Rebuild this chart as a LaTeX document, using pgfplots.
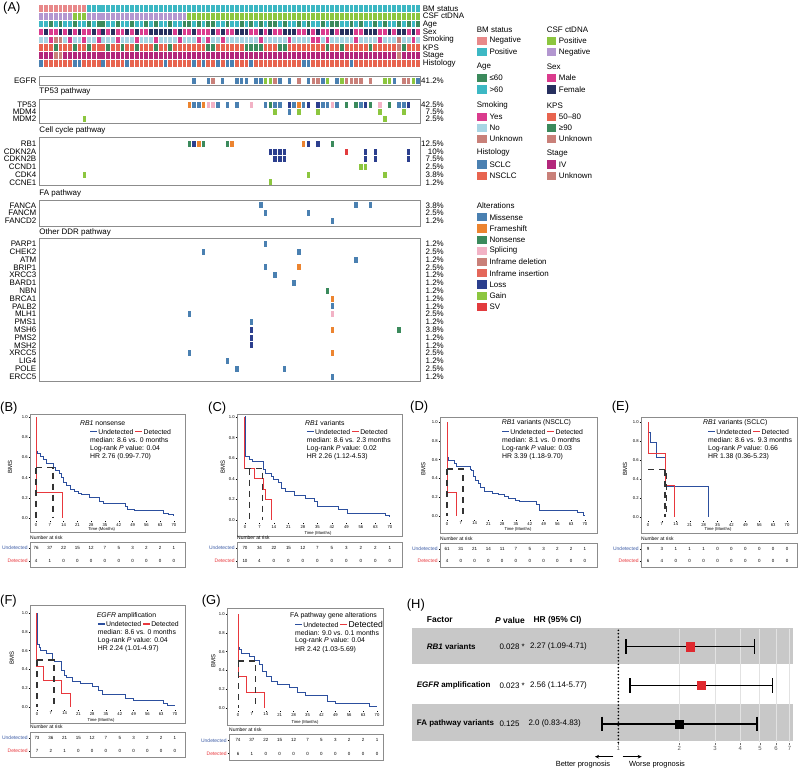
\documentclass[border=0pt]{standalone}
\usepackage{fontspec}
\setmainfont{Liberation Sans}
\usepackage{pgfplots}
\pgfplotsset{compat=1.18}
\usepackage{pgfplotstable}
\usetikzlibrary{arrows.meta}

\definecolor{cBMneg}{HTML}{E8898A}
\definecolor{cTeal}{HTML}{3DB8C4}
\definecolor{cCSFpos}{HTML}{8CC63F}
\definecolor{cCSFneg}{HTML}{B397D0}
\definecolor{cDkGreen}{HTML}{3B8A5C}
\definecolor{cMag}{HTML}{DA3B8D}
\definecolor{cNavy}{HTML}{262F5E}
\definecolor{cLtBlue}{HTML}{A8D5E4}
\definecolor{cUnk}{HTML}{C98079}
\definecolor{cCoral}{HTML}{E8644F}
\definecolor{cStage}{HTML}{B3277B}
\definecolor{cSCLC}{HTML}{4A80B1}
\definecolor{aMis}{HTML}{4A80B1}
\definecolor{aFs}{HTML}{EC8430}
\definecolor{aNon}{HTML}{3B8A5C}
\definecolor{aSpl}{HTML}{F2B2C5}
\definecolor{aDel}{HTML}{C98079}
\definecolor{aIns}{HTML}{E4675A}
\definecolor{aLoss}{HTML}{2C3F8E}
\definecolor{aGain}{HTML}{8CC63F}
\definecolor{aSV}{HTML}{E23B3E}
\definecolor{kmblue}{HTML}{2C4F9E}
\definecolor{kmred}{HTML}{E8383D}
\definecolor{ublue}{HTML}{3B5BA5}
\definecolor{framec}{HTML}{8C8C8C}
\definecolor{bandc}{HTML}{C8C8C8}
\definecolor{gridc}{HTML}{E2E2E2}
\definecolor{fred}{HTML}{E0292F}

\pgfdeclareplotmark{cellA}{\pgfpathrectangle{\pgfpoint{-1.9bp}{-3.35bp}}{\pgfpoint{3.8bp}{6.7bp}}\pgfusepathqfill}
\pgfdeclareplotmark{cellB}{\pgfpathrectangle{\pgfpoint{-1.75bp}{-3bp}}{\pgfpoint{3.5bp}{6bp}}\pgfusepathqfill}

\newcommand{\fs}[1]{\fontsize{#1}{#1}\selectfont}
\newcommand{\detfont}{}
\newcommand{\kmleg}{\textcolor{kmblue}{\rule[0.28em]{7bp}{1.3bp}}\,Undetected\ \textcolor{kmred}{\rule[0.28em]{7bp}{1.3bp}}\,{\detfont Detected}}
\newcommand{\kmtext}[7]{%
  \node[anchor=west,font=\fs{6.9},inner sep=0] at (#1,#4-8.7) {#2};
  \node[anchor=west,font=\fs{6.9},inner sep=0] at (#3,#4) {\kmleg};
  \node[anchor=west,font=\fs{6.9},inner sep=0] at (#3,#4+8.4) {median: #5 months};
  \node[anchor=west,font=\fs{6.9},inner sep=0] at (#3,#4+16.7) {Log-rank \textit{P} value: #6};
  \node[anchor=west,font=\fs{6.9},inner sep=0] at (#3,#4+25) {HR #7};}
\newcommand{\sw}[4]{\fill[#3] (#1,#2-4.15) rectangle (#1+9.4,#2+4.15);
  \node[anchor=west,font=\fs{8},inner sep=0] at (#1+12,#2) {#4};}

\pgfplotsset{
 onco/.style={scatter, only marks, scatter src=explicit symbolic,
  scatter/classes={
   N={mark=cellA,cBMneg}, P={mark=cellA,cTeal}, G={mark=cellA,cCSFpos}, V={mark=cellA,cCSFneg},
   Y={mark=cellA,cDkGreen}, O={mark=cellA,cTeal}, M={mark=cellA,cMag}, F={mark=cellA,cNavy},
   S={mark=cellA,cMag}, L={mark=cellA,cLtBlue}, U={mark=cellA,cUnk}, K={mark=cellA,cCoral},
   H={mark=cellA,cDkGreen}, I={mark=cellA,cStage}, C={mark=cellA,cSCLC}, D={mark=cellA,cCoral},
   a={mark=cellB,aMis}, f={mark=cellB,aFs}, n={mark=cellB,aNon}, s={mark=cellB,aSpl},
   d={mark=cellB,aDel}, i={mark=cellB,aIns}, l={mark=cellB,aLoss}, g={mark=cellB,aGain}, v={mark=cellB,aSV}}},
 km/.style={scale only axis, anchor=south west, axis x line*=bottom, axis y line*=left,
  axis line style={draw=none}, xtick={0,7,14,21,28,35,42,49,56,63,70},
  ytick={0,0.2,0.4,0.6,0.8,1}, yticklabels={0.0,0.2,0.4,0.6,0.8,1.0},
  tick style={black,line width=0.3bp}, major tick length=1.3bp, tick align=outside,
  ticklabel style={font=\fs{4.2},inner sep=0.8bp}, /pgf/number format/assume math mode=true, clip=false},
 kmb/.style={const plot, kmblue, line width=1bp, mark=none},
 kmr/.style={const plot, kmred, line width=1bp, mark=none},
 kmd/.style={black!80, line width=1.2bp, dash pattern=on 6bp off 5bp, mark=none},
 risk/.style={scale only axis, anchor=north west, y dir=reverse, ymin=0.52, ymax=2.48,
  axis line style={framec,line width=0.6bp}, xtick=\empty, ytick={1,2},
  yticklabels={\textcolor{ublue}{Undetected},\textcolor{kmred}{Detected}}, ytick pos=left,
  tick style={black,line width=0.3bp}, major tick length=1.2bp, tick align=outside,
  yticklabel style={font=\fs{5},inner sep=1bp}, clip=false},
 riskn/.style={draw=none, mark=none, nodes near coords, point meta=explicit symbolic,
  nodes near coords align=center, nodes near coords style={anchor=center,font=\fs{4.5},inner sep=0}},
}

\pgfplotstableread{
id bm csf age sex smk kps stg hist
0 N V O M L K I C
1 N V O F L K I D
2 N V Y M S K I D
3 N V O M U H U D
4 N V Y F U K U D
5 N V O M L K I D
6 N V O F S K I D
7 N G Y M L H I C
8 N G O F L K I C
9 N G O M S K I D
10 P V Y M L H I D
11 P V O F L K I D
12 P V Y M S K I D
13 P V Y F L K I C
14 P V O M L H I D
15 P V O F L K I D
16 P V Y M S K I D
17 P V O M L H I D
18 P V O F L K I C
19 P V Y M L K I D
20 P V O F S H I D
21 P V O M L K I D
22 P V Y M L K I D
23 P V O F L K I D
24 P V Y F S H I D
25 P V O F L K I D
26 P V O F L K I C
27 P V Y F L H I D
28 P V O M L K I D
29 P V O F S K I D
30 P V Y M L K I D
31 P G Y M L K I D
32 P G O F L K I C
33 P G Y M S K I D
34 P G O M L K I C
35 P G Y M S H I D
36 P G Y F L H I D
37 P G O M L K I C
38 P G O F S K I D
39 P G Y M L K I C
40 P G O M L K I C
41 P G O F L K I D
42 P G Y F L K I D
43 P G O F L H I D
44 P G Y M L H I C
45 P G O M L H I D
46 P G Y F S H I D
47 P G O M L K I D
48 P G Y F L K I D
49 P G Y M L K I D
50 P G O M L H I D
51 P G Y F L H I D
52 P G O F S K I D
53 P G O F L K I D
54 P G Y M L K I D
55 P G O M L K I C
56 P G Y F L K I C
57 P G O M S K I D
58 P G O F S K I D
59 P G Y M L K I D
60 P G O M S H I D
61 P G Y F L K I D
62 P G Y M L K I D
63 P G O F L H I D
64 P G O F L K I D
65 P G Y F L K I C
66 P G O M S K I D
67 P G Y M L K I D
68 P G O F L K I D
69 P G O F L H I D
70 P G Y F L K I D
71 P G O M S K I D
72 P G Y M L K I D
73 P G O F L K I D
74 P G O M L K I D
75 P G Y F U U U D
76 P G O F L H I D
77 P G Y M L K I D
78 P G O F S K I D
79 P G Y M L K I D
}\clin

\pgfplotstableread{
x y c
32 80.5 a
35 80.5 a
36 80.5 d
38 80.5 a
41 80.5 a
42 80.5 a
43 80.5 a
45 80.5 a
46 80.5 a
47 80.5 g
48 80.5 g
49 80.5 d
50 80.5 a
52 80.5 a
54 80.5 d
56 80.5 a
57 80.5 d
58 80.5 d
59 80.5 a
60 80.5 g
62 80.5 a
63 80.5 g
64 80.5 d
65 80.5 d
66 80.5 d
67 80.5 d
69 80.5 d
72 80.5 g
73 80.5 g
74 80.5 a
76 80.5 d
77 80.5 d
78 80.5 g
79 80.5 a
31 104.5 f
32 104.5 a
33 104.5 a
34 104.5 f
35 104.5 s
36 104.5 s
37 104.5 a
39 104.5 a
41 104.5 a
44 104.5 s
47 104.5 a
48 104.5 n
49 104.5 a
50 104.5 a
52 104.5 l
53 104.5 a
54 104.5 f
55 104.5 a
56 104.5 l
58 104.5 l
59 104.5 a
60 104.5 a
61 104.5 s
62 104.5 a
64 104.5 n
66 104.5 n
67 104.5 a
68 104.5 l
69 104.5 n
71 104.5 s
73 104.5 n
75 104.5 a
76 104.5 a
77 104.5 l
49 111.8 g
52 111.8 a
54 111.8 g
58 111.8 g
71 111.8 g
76 111.8 g
9 119.2 g
72 119.2 g
31 143.7 n
32 143.7 l
33 143.7 f
34 143.7 n
39 143.7 n
40 143.7 f
55 143.7 f
56 143.7 l
58 143.7 l
61 143.7 n
48 151.5 l
49 151.5 l
50 151.5 l
51 151.5 l
64 151.5 v
68 151.5 l
70 151.5 l
77 151.5 l
49 159.2 l
50 159.2 l
51 159.2 l
68 159.2 l
70 159.2 l
77 159.2 l
67 166.9 g
68 166.9 g
9 174.7 g
56 174.7 g
72 174.7 g
48 182.4 g
46 205.3 a
66 205.3 a
69 205.3 a
47 213.2 a
56 213.2 a
61 221 a
47 244 a
34 251.8 a
54 251.8 a
66 259.6 a
47 267.4 a
54 267.4 f
49 275.2 a
53 283 a
60 290.8 n
61 298.6 f
61 306.4 a
31 314.2 a
61 314.2 s
44 322 a
44 329.8 l
61 329.8 f
75 329.8 n
44 337.6 l
44 345.4 l
31 353.2 a
61 353.2 f
39 361 a
41 368.8 a
51 368.8 a
61 376.6 a
}\alter

\begin{document}
\begin{tikzpicture}
\useasboundingbox (0,0) rectangle (798bp,-770bp);
\begin{scope}[x=1bp,y=-1bp]
% panel labels
\foreach \lab/\xx/\yy in {(A)/3/8.5,(B)/0/408.5,(C)/208/408.5,(D)/410/407.5,(E)/611.7/407.5,(F)/0/601,(G)/201.7/601,(H)/406.7/605}
  {\node[anchor=west,font=\fs{13},inner sep=0] at (\xx,\yy) {\lab};}
% clinical labels
\foreach \lab/\yy in {BM status/8.3,CSF ctDNA/16.2,Age/24.1,Sex/32,Smoking/39.9,KPS/47.8,Stage/55.7,Histology/63.6}
  {\node[anchor=west,font=\fs{8},inner sep=0] at (422.7,\yy) {\lab};}
% gene boxes
\draw[framec,line width=0.7bp] (39.3,76) rectangle (420.6,85);
\draw[framec,line width=0.7bp] (39.3,99) rectangle (420.6,123.3);
\draw[framec,line width=0.7bp] (39.3,137.3) rectangle (420.6,185.7);
\draw[framec,line width=0.7bp] (39.3,200.7) rectangle (420.6,226);
\draw[framec,line width=0.7bp] (39.3,238.3) rectangle (420.6,381);
\foreach \lab/\yy in {TP53 pathway/91.7,Cell cycle pathway/130.7,FA pathway/193.3,Other DDR pathway/232.7}
  {\node[anchor=west,font=\fs{8},inner sep=0] at (39.3,\yy) {\lab};}
\foreach \g/\yy/\p in {EGFR/80.5/41.2\%,TP53/104.5/42.5\%,MDM4/111.8/7.5\%,MDM2/119.2/2.5\%,
  RB1/143.7/12.5\%,CDKN2A/151.5/10\%,CDKN2B/159.2/7.5\%,CCND1/166.9/2.5\%,CDK4/174.7/3.8\%,CCNE1/182.4/1.2\%,
  FANCA/205.3/3.8\%,FANCM/213.2/2.5\%,FANCD2/221/1.2\%,
  PARP1/244/1.2\%,CHEK2/251.8/2.5\%,ATM/259.6/1.2\%,BRIP1/267.4/2.5\%,XRCC3/275.2/1.2\%,BARD1/283/1.2\%,
  NBN/290.8/1.2\%,BRCA1/298.6/1.2\%,PALB2/306.4/1.2\%,MLH1/314.2/2.5\%,PMS1/322/1.2\%,MSH6/329.8/3.8\%,
  PMS2/337.6/1.2\%,MSH2/345.4/1.2\%,XRCC5/353.2/2.5\%,LIG4/361/1.2\%,POLE/368.8/2.5\%,ERCC5/376.6/1.2\%}
  {\node[anchor=east,font=\fs{8},inner sep=0] at (36.5,\yy) {\g};
   \node[anchor=east,font=\fs{8},inner sep=0] at (444,\yy) {\p};}
% legend
\node[anchor=west,font=\fs{8},inner sep=0] at (476.7,30) {BM status};
\sw{477.3}{40.8}{cBMneg}{Negative} \sw{477.3}{52}{cTeal}{Positive}
\node[anchor=west,font=\fs{8},inner sep=0] at (546.7,30) {CSF ctDNA};
\sw{546.7}{40.8}{cCSFpos}{Positive} \sw{546.7}{52}{cCSFneg}{Negative}
\node[anchor=west,font=\fs{8},inner sep=0] at (476.7,66.7) {Age};
\sw{477.3}{78}{cDkGreen}{≤60} \sw{477.3}{89.5}{cTeal}{>60}
\node[anchor=west,font=\fs{8},inner sep=0] at (546.7,66.7) {Sex};
\sw{546.7}{78}{cMag}{Male} \sw{546.7}{89.5}{cNavy}{Female}
\node[anchor=west,font=\fs{8},inner sep=0] at (476.7,105.3) {Smoking};
\sw{477.3}{116.7}{cMag}{Yes} \sw{477.3}{127.9}{cLtBlue}{No} \sw{477.3}{139.1}{cUnk}{Unknown}
\node[anchor=west,font=\fs{8},inner sep=0] at (546.7,105.3) {KPS};
\sw{546.7}{116.7}{cCoral}{50–80} \sw{546.7}{127.9}{cDkGreen}{≥90} \sw{546.7}{139.1}{cUnk}{Unknown}
\node[anchor=west,font=\fs{8},inner sep=0] at (476.7,152.7) {Histology};
\sw{477.3}{164.5}{cSCLC}{SCLC} \sw{477.3}{175.8}{cCoral}{NSCLC}
\node[anchor=west,font=\fs{8},inner sep=0] at (546.7,153.5) {Stage};
\sw{546.7}{164.5}{cStage}{IV} \sw{546.7}{175.8}{cUnk}{Unknown}
\node[anchor=west,font=\fs{8},inner sep=0] at (476.7,205.7) {Alterations};
\sw{477.3}{217.3}{aMis}{Missense} \sw{477.3}{228.5}{aFs}{Frameshift} \sw{477.3}{239.7}{aNon}{Nonsense}
\sw{477.3}{250.9}{aSpl}{Splicing} \sw{477.3}{262.1}{aDel}{Inframe deletion} \sw{477.3}{273.3}{aIns}{Inframe insertion}
\sw{477.3}{284.5}{aLoss}{Loss} \sw{477.3}{295.7}{aGain}{Gain} \sw{477.3}{306.9}{aSV}{SV}
% KM frames
\draw[framec,line width=0.6bp] (30,414) rectangle (185,532);
\draw[framec,line width=0.6bp] (237,414) rectangle (402,536);
\draw[framec,line width=0.6bp] (440,417) rectangle (597,533);
\draw[framec,line width=0.6bp] (641,417) rectangle (797,533);
\draw[framec,line width=0.6bp] (30,605) rectangle (185,723);
\draw[framec,line width=0.6bp] (227,608) rectangle (383,725);
% KM texts
\kmtext{80}{\textit{RB1} nonsense}{90}{431.7}{8.6 vs. 0}{0.04}{2.76 (0.99-7.70)}
\kmtext{305}{\textit{RB1} variants}{306.7}{431.7}{8.6 vs. 2.3}{0.02}{2.26 (1.12-4.53)}
\kmtext{501.7}{\textit{RB1} variants (NSCLC)}{502}{431.7}{8.1 vs. 0}{0.03}{3.39 (1.18-9.70)}
\kmtext{703}{\textit{RB1} variants (SCLC)}{708}{431.7}{8.6 vs. 9.3}{0.66}{1.38 (0.36-5.23)}
\kmtext{96.7}{\textit{EGFR} amplification}{97.7}{624}{8.6 vs. 0}{0.04}{2.24 (1.01-4.97)}
\renewcommand{\detfont}{\fs{8.6}}
\kmtext{290}{FA pathway gene alterations}{295}{624.3}{9.0 vs. 0.1}{0.04}{2.42 (1.03-5.69)}
\foreach \xx/\yy in {10/467,222.7/467,423.3/469,625/469,11.7/658,213.3/661}
  {\node[rotate=90,font=\fs{6},inner sep=0] at (\xx,\yy) {BMS};}
\foreach \xx/\yy in {101.7/529.5,318/533.5,518/529.3,718/529.3,101/720,305/722}
  {\node[font=\fs{4.2},inner sep=0] at (\xx,\yy) {Time (Months)};}
\foreach \xx/\yy in {30/537.3,237/537.3,440/538.3,641/538.3,30/727,229/730}
  {\node[anchor=west,font=\fs{5},inner sep=0] at (\xx,\yy) {Number at risk};}
% forest bands and texts
\fill[bandc] (411.7,628) rectangle (793.3,664);
\fill[bandc] (411.7,704) rectangle (793.3,741);
\node[anchor=west,font=\fs{8.5}\bfseries,inner sep=0] at (426.7,620) {Factor};
\node[anchor=west,font=\fs{8.5}\bfseries,inner sep=0] at (495,620) {\textit{P} value};
\node[anchor=west,font=\fs{8.5}\bfseries,inner sep=0] at (533.3,620) {HR (95\% CI)};
\node[anchor=west,font=\fs{8}\bfseries,inner sep=0] at (426.7,646.7) {\textit{RB1} variants};
\node[anchor=west,font=\fs{8}\bfseries,inner sep=0] at (416.7,685.3) {\textit{EGFR} amplification};
\node[anchor=west,font=\fs{8}\bfseries,inner sep=0] at (416.7,723.9) {FA pathway variants};
\node[anchor=west,font=\fs{8},inner sep=0] at (499.3,646.7) {0.028 *};
\node[anchor=west,font=\fs{8},inner sep=0] at (499.3,685.3) {0.023 *};
\node[anchor=west,font=\fs{8},inner sep=0] at (499.3,723.9) {0.125};
\node[anchor=west,font=\fs{8},inner sep=0] at (530,646.7) {2.27 (1.09-4.71)};
\node[anchor=west,font=\fs{8},inner sep=0] at (530,685.3) {2.56 (1.14-5.77)};
\node[anchor=west,font=\fs{8},inner sep=0] at (528.3,723.9) {2.0 (0.83-4.83)};
\draw[-{Stealth[length=4bp,width=3.6bp]},line width=1bp] (613.3,756.7) -- (595,756.7);
\draw[-{Stealth[length=4bp,width=3.6bp]},line width=1bp] (622.7,756.7) -- (641.7,756.7);
\node[font=\fs{7.5},inner sep=0] at (583,765) {Better prognosis};
\node[font=\fs{7.5},inner sep=0] at (657,765) {Worse prognosis};
\end{scope}

% ---------------- oncoprint
\begin{axis}[scale only axis, hide axis, clip=false, at={(39bp,0bp)}, anchor=north west,
  width=381.6bp, height=400bp, xmin=-0.5, xmax=79.5, ymin=0, ymax=400, y dir=reverse]
\addplot[onco] table[x=id,y expr=8.3,meta=bm]{\clin};
\addplot[onco] table[x=id,y expr=16.2,meta=csf]{\clin};
\addplot[onco] table[x=id,y expr=24.1,meta=age]{\clin};
\addplot[onco] table[x=id,y expr=32,meta=sex]{\clin};
\addplot[onco] table[x=id,y expr=39.9,meta=smk]{\clin};
\addplot[onco] table[x=id,y expr=47.8,meta=kps]{\clin};
\addplot[onco] table[x=id,y expr=55.7,meta=stg]{\clin};
\addplot[onco] table[x=id,y expr=63.6,meta=hist]{\clin};
\addplot[onco] table[x=x,y=y,meta=c]{\alter};
\end{axis}

% ---------------- B
\begin{axis}[km, at={(30bp,-521bp)}, width=155bp, height=107bp, xmin=-3.05, xmax=75.6, ymin=-0.03, ymax=1.03]
\addplot[kmb] coordinates {(0,1) (0.3,0.66) (1,0.64) (2.5,0.61) (4,0.58) (5.4,0.54) (8.8,0.5) (9.8,0.475) (12,0.44) (13,0.40) (14,0.35) (15.5,0.32) (17.5,0.28) (19.5,0.26) (21.5,0.245) (23,0.23) (27,0.2) (32,0.165) (34,0.14) (45.5,0.115) (46.5,0.086) (50,0.07) (64.5,0.046) (67,0.03) (70,0.02)};
\addplot[kmr] coordinates {(0,1) (0,0.25) (13.4,0)};
\addplot[kmd] coordinates {(0,0.5) (8.6,0.5) (8.6,0)};
\addplot[kmd] coordinates {(0,0.5) (0,0)};
\end{axis}
\begin{axis}[risk, at={(30bp,-542bp)}, width=155bp, height=25bp, xmin=-3.05, xmax=75.6]
\addplot[riskn] table[x=t,y=r,meta=n,row sep=\\]{t r n\\0 1 76\\7 1 37\\14 1 22\\21 1 15\\28 1 12\\35 1 7\\42 1 5\\49 1 3\\56 1 2\\63 1 2\\70 1 1\\0 2 4\\7 2 1\\14 2 0\\21 2 0\\28 2 0\\35 2 0\\42 2 0\\49 2 0\\56 2 0\\63 2 0\\70 2 0\\};
\end{axis}

% ---------------- C
\begin{axis}[km, at={(237bp,-523.1bp)}, width=165bp, height=109.2bp, xmin=-3.86, xmax=75.8, ymin=-0.03, ymax=1.03]
\addplot[kmb] coordinates {(0,1) (0.3,0.62) (2.4,0.59) (3.4,0.57) (8.9,0.49) (10,0.45) (13,0.42) (14,0.39) (16,0.36) (17.8,0.31) (19.5,0.275) (24,0.24) (29,0.21) (33.5,0.18) (35,0.13) (45,0.10) (49.5,0.06) (68,0.04) (70,0.026)};
\addplot[kmr] coordinates {(0,1) (0,0.5) (4.8,0.4) (8.9,0.3) (9.7,0.2) (12.9,0)};
\addplot[kmd] coordinates {(0,0.5) (8.6,0.5) (8.6,0)};
\addplot[kmd] coordinates {(2.3,0.5) (2.3,0)};
\end{axis}
\begin{axis}[risk, at={(237bp,-542bp)}, width=165bp, height=25bp, xmin=-3.86, xmax=75.8]
\addplot[riskn] table[x=t,y=r,meta=n,row sep=\\]{t r n\\0 1 70\\7 1 34\\14 1 22\\21 1 15\\28 1 12\\35 1 7\\42 1 5\\49 1 3\\56 1 2\\63 1 2\\70 1 1\\0 2 10\\7 2 4\\14 2 0\\21 2 0\\28 2 0\\35 2 0\\42 2 0\\49 2 0\\56 2 0\\63 2 0\\70 2 0\\};
\end{axis}

% ---------------- D
\begin{axis}[km, at={(440bp,-519.8bp)}, width=157bp, height=103.4bp, xmin=-3.55, xmax=76.1, ymin=-0.04, ymax=1.06]
\addplot[kmb] coordinates {(0,1) (0.4,0.62) (1,0.59) (4,0.555) (5,0.526) (11.7,0.5) (12.5,0.48) (13.5,0.42) (14.5,0.38) (16,0.35) (17,0.3) (19,0.26) (23,0.245) (26,0.23) (29,0.21) (31,0.19) (35,0.17) (37,0.15) (45.5,0.12) (47,0.063) (66,0.035) (69.5,0.01) (70,0.01)};
\addplot[kmr] coordinates {(0,1) (0,0.25) (4.6,0)};
\addplot[kmd] coordinates {(0,0.5) (8.1,0.5) (8.1,0)};
\addplot[kmd] coordinates {(0,0.5) (0,0)};
\end{axis}
\begin{axis}[risk, at={(440bp,-543bp)}, width=157bp, height=24bp, xmin=-3.55, xmax=76.1]
\addplot[riskn] table[x=t,y=r,meta=n,row sep=\\]{t r n\\0 1 61\\7 1 31\\14 1 21\\21 1 14\\28 1 11\\35 1 7\\42 1 5\\49 1 3\\56 1 2\\63 1 2\\70 1 1\\0 2 4\\7 2 0\\14 2 0\\21 2 0\\28 2 0\\35 2 0\\42 2 0\\49 2 0\\56 2 0\\63 2 0\\70 2 0\\};
\end{axis}

% ---------------- E
\begin{axis}[km, at={(641bp,-520.8bp)}, width=156bp, height=103.55bp, xmin=-3.52, xmax=75.0, ymin=-0.04, ymax=1.05]
\addplot[kmb] coordinates {(0,1) (0.2,0.89) (1.2,0.78) (4.4,0.63) (8.9,0.32) (30.4,0)};
\addplot[kmr] coordinates {(0,1) (0,0.667) (8.9,0.333) (13.1,0)};
\addplot[kmd] coordinates {(0,0.5) (9.3,0.5) (9.3,0)};
\addplot[kmd] coordinates {(8.6,0.5) (8.6,0)};
\end{axis}
\begin{axis}[risk, at={(641bp,-543bp)}, width=156bp, height=24bp, xmin=-3.52, xmax=75.0]
\addplot[riskn] table[x=t,y=r,meta=n,row sep=\\]{t r n\\0 1 9\\7 1 3\\14 1 1\\21 1 1\\28 1 1\\35 1 0\\42 1 0\\49 1 0\\56 1 0\\63 1 0\\70 1 0\\0 2 6\\7 2 4\\14 2 0\\21 2 0\\28 2 0\\35 2 0\\42 2 0\\49 2 0\\56 2 0\\63 2 0\\70 2 0\\};
\end{axis}

% ---------------- F
\begin{axis}[km, at={(30bp,-709.8bp)}, width=155bp, height=104.3bp, xmin=-3.55, xmax=75.1, ymin=-0.03, ymax=1.08]
\addplot[kmb] coordinates {(0,1) (0.3,0.66) (1.2,0.636) (2,0.6) (4.7,0.57) (8,0.5) (9,0.48) (12.5,0.39) (14,0.34) (15,0.31) (18,0.27) (22,0.245) (28,0.216) (31,0.18) (33,0.135) (45,0.092) (49,0.064) (64,0.04) (66,0.02) (70,0.02)};
\addplot[kmr] coordinates {(0,1) (0,0.4286) (3.2,0.2857) (12.5,0.1429) (16.9,0)};
\addplot[kmd] coordinates {(0,0.5) (8.6,0.5) (8.6,0)};
\addplot[kmd] coordinates {(0,0.5) (0,0)};
\end{axis}
\begin{axis}[risk, at={(30bp,-732bp)}, width=155bp, height=25bp, xmin=-3.55, xmax=75.1]
\addplot[riskn] table[x=t,y=r,meta=n,row sep=\\]{t r n\\0 1 73\\7 1 36\\14 1 21\\21 1 15\\28 1 12\\35 1 7\\42 1 5\\49 1 3\\56 1 2\\63 1 2\\70 1 1\\0 2 7\\7 2 2\\14 2 1\\21 2 0\\28 2 0\\35 2 0\\42 2 0\\49 2 0\\56 2 0\\63 2 0\\70 2 0\\};
\end{axis}

% ---------------- G
\begin{axis}[km, at={(227bp,-710.8bp)}, width=156bp, height=102.4bp, xmin=-5.54, xmax=73.0, ymin=-0.03, ymax=1.06]
\addplot[kmb] coordinates {(0,1) (0.3,0.645) (1,0.62) (2,0.585) (6,0.55) (8.5,0.51) (11,0.46) (12.5,0.39) (14.5,0.33) (17,0.28) (20,0.245) (26,0.216) (30,0.17) (34,0.128) (45,0.074) (49,0.05) (66,0.02) (70,0.02)};
\addplot[kmr] coordinates {(0,1) (0,0.3333) (4.4,0.1667) (13.2,0)};
\addplot[kmd] coordinates {(0,0.5) (9.0,0.5) (9.0,0)};
\addplot[kmd] coordinates {(0.1,0.5) (0.1,0)};
\end{axis}
\begin{axis}[risk, at={(229bp,-734bp)}, width=154bp, height=26bp, xmin=-4.53, xmax=73.0]
\addplot[riskn] table[x=t,y=r,meta=n,row sep=\\]{t r n\\0 1 74\\7 1 37\\14 1 22\\21 1 15\\28 1 12\\35 1 7\\42 1 5\\49 1 3\\56 1 2\\63 1 2\\70 1 1\\0 2 6\\7 2 1\\14 2 0\\21 2 0\\28 2 0\\35 2 0\\42 2 0\\49 2 0\\56 2 0\\63 2 0\\70 2 0\\};
\end{axis}

% ---------------- H forest
\begin{axis}[scale only axis, anchor=north west, at={(412bp,-627.4bp)}, width=381bp, height=115.9bp,
  xmode=log, xmin=0.0958, xmax=7.28, ymin=0.5, ymax=3.5, axis x line*=bottom, axis y line=none,
  x axis line style={draw=none}, xtick={1,2,3,4,5,6,7}, xticklabels={1,2,3,4,5,6,7}, xminorticks=false,
  tick style={black!55,line width=0.4bp}, major tick length=2bp, tick align=outside,
  xticklabel style={font=\fs{6},text=black!65,inner sep=1bp}, clip=false]
\pgfplotsinvokeforeach{2,3,4,5,6,7}{\draw[gridc,line width=1bp] (axis cs:#1,0.53) -- (axis cs:#1,3.47);}
\addplot[black, line width=1.8bp, line cap=round, dash pattern=on 0bp off 3.4bp] coordinates {(1,0.52) (1,3.48)};
\addplot[black, line width=1.3bp, mark=|, mark size=7.3bp, mark options={solid,line width=1.3bp}] coordinates {(1.09,3) (4.71,3)};
\addplot[black, line width=1.3bp, mark=|, mark size=7.3bp, mark options={solid,line width=1.3bp}] coordinates {(1.14,2) (5.77,2)};
\addplot[black, line width=1.3bp, mark=|, mark size=7.3bp, mark options={solid,line width=1.3bp}] coordinates {(0.83,1) (4.83,1)};
\addplot[only marks, mark=square*, mark size=4.1bp, fred] coordinates {(2.27,3) (2.56,2)};
\addplot[only marks, mark=square*, mark size=4.1bp, black] coordinates {(2.0,1)};
\end{axis}
\end{tikzpicture}
\end{document}
